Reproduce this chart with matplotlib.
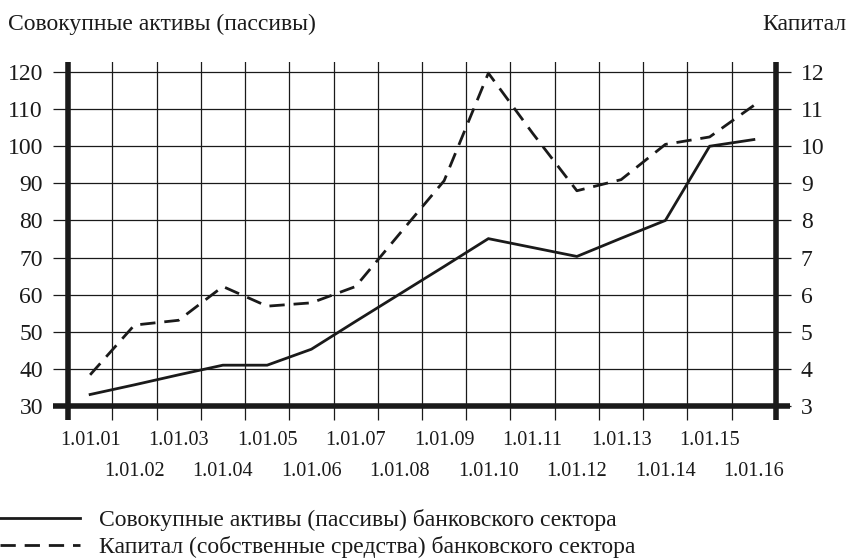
import numpy as np
import matplotlib
matplotlib.use('Agg')
import matplotlib.pyplot as plt

plt.rcParams['font.family'] = ['Liberation Serif', 'DejaVu Serif']

# dates on the x axis (1 January of each year)
dates = ['1.01.01', '1.01.02', '1.01.03', '1.01.04', '1.01.05', '1.01.06',
         '1.01.07', '1.01.08', '1.01.09', '1.01.10', '1.01.11', '1.01.12',
         '1.01.13', '1.01.14', '1.01.15', '1.01.16']
# total assets (liabilities), left axis
assets = [33.1, 35.7, 38.4, 41.0, 41.0, 45.3, 52.8, 60.2, 67.6, 75.1,
          72.7, 70.3, 75.2, 80.0, 100.0, 101.8]
# capital (own funds), right axis
capital = [3.84, 5.18, 5.31, 6.22, 5.69, 5.78, 6.22, 7.65, 9.07, 11.97,
           10.35, 8.8, 9.1, 10.05, 10.25, 11.1]

left_ticks = list(range(30, 121, 10))
right_ticks = list(range(3, 13))

label_assets = 'Совокупные активы (пассивы) банковского сектора'
label_capital = 'Капитал (собственные средства) банковского сектора'

ink = '#1a1a1a'
fs_x = 14.5
fs = 17

fig = plt.figure(figsize=(8.5, 5.58), dpi=100)
ax = fig.add_axes([68 / 850, 1 - 406 / 558, 708 / 850, 344 / 558])
ax2 = ax.twinx()

x = np.arange(len(dates))
ax.set_xlim(-0.5, len(dates) - 0.5)
ax.set_ylim(30, 30 + 344 / 3.711)
ax2.set_ylim(3, 3 + 34.4 / 3.711)

l1, = ax.plot(x, assets, color=ink, lw=2.0, solid_joinstyle='miter',
              label=label_assets)
l2, = ax2.plot(x, capital, color=ink, lw=2.0, linestyle=(0, (5.5, 3.2)),
               label=label_capital)

# vertical grid between dates
ax.set_xticks(x[:-1] + 0.5, minor=True)
ax.tick_params(axis='x', which='minor', length=10, width=0.9, color=ink,
               direction='out')
ax.grid(axis='x', which='minor', color=ink, lw=0.9)

# date labels under the cells, two rows
ax.set_xticks(x[::2])
ax.set_xticklabels(dates[::2])
ax.tick_params(axis='x', which='major', length=0, pad=18, labelsize=fs_x,
               labelcolor=ink)
sec = ax.secondary_xaxis('bottom')
sec.set_xticks(x[1::2])
sec.set_xticklabels(dates[1::2])
sec.tick_params(axis='x', length=0, pad=40, labelsize=fs_x, labelcolor=ink)
sec.spines['bottom'].set_visible(False)

ax.set_yticks(left_ticks)
ax.tick_params(axis='y', length=11, width=0.9, color=ink, pad=7,
               labelsize=fs, labelcolor=ink)
ax.grid(axis='y', which='major', color=ink, lw=0.9)

ax2.set_yticks(right_ticks)
ax2.tick_params(axis='y', length=11, width=0.9, color=ink, pad=7,
                labelsize=fs, labelcolor=ink)

for a in (ax, ax2):
    for s in a.spines.values():
        s.set_visible(False)
ax.set_axisbelow(True)

# thick axis lines, running past the corners like the ticks
px_x = 708 / len(dates)
for side in ('left', 'bottom'):
    ax.spines[side].set_visible(True)
    ax.spines[side].set_linewidth(4.0)
    ax.spines[side].set_color(ink)
    ax.spines[side].set_capstyle('butt')
ax.spines['left'].set_bounds(30 - 14 / 3.711, 30 + 344 / 3.711)
ax.spines['bottom'].set_bounds(-0.5 - 15 / px_x, len(dates) - 0.5 + 14 / px_x)
ax2.spines['right'].set_visible(True)
ax2.spines['right'].set_linewidth(4.0)
ax2.spines['right'].set_color(ink)
ax2.spines['right'].set_capstyle('butt')
ax2.spines['right'].set_bounds(3 - 1.4 / 3.711, 3 + 34.4 / 3.711)

fig.text(8 / 850, 1 - 30 / 558, 'Совокупные активы (пассивы)', fontsize=fs,
         color=ink, ha='left', va='baseline')
fig.text(846 / 850, 1 - 30 / 558, 'Капитал', fontsize=fs, color=ink,
         ha='right', va='baseline')

fig.legend(handles=[l1, l2], loc='upper left',
           bbox_to_anchor=(0, 1 - 509 / 558), frameon=False, fontsize=fs,
           handlelength=3.4, handletextpad=0.8, borderpad=0,
           borderaxespad=0, labelspacing=0.22, labelcolor=ink)

fig.savefig('out.png', dpi=100)
